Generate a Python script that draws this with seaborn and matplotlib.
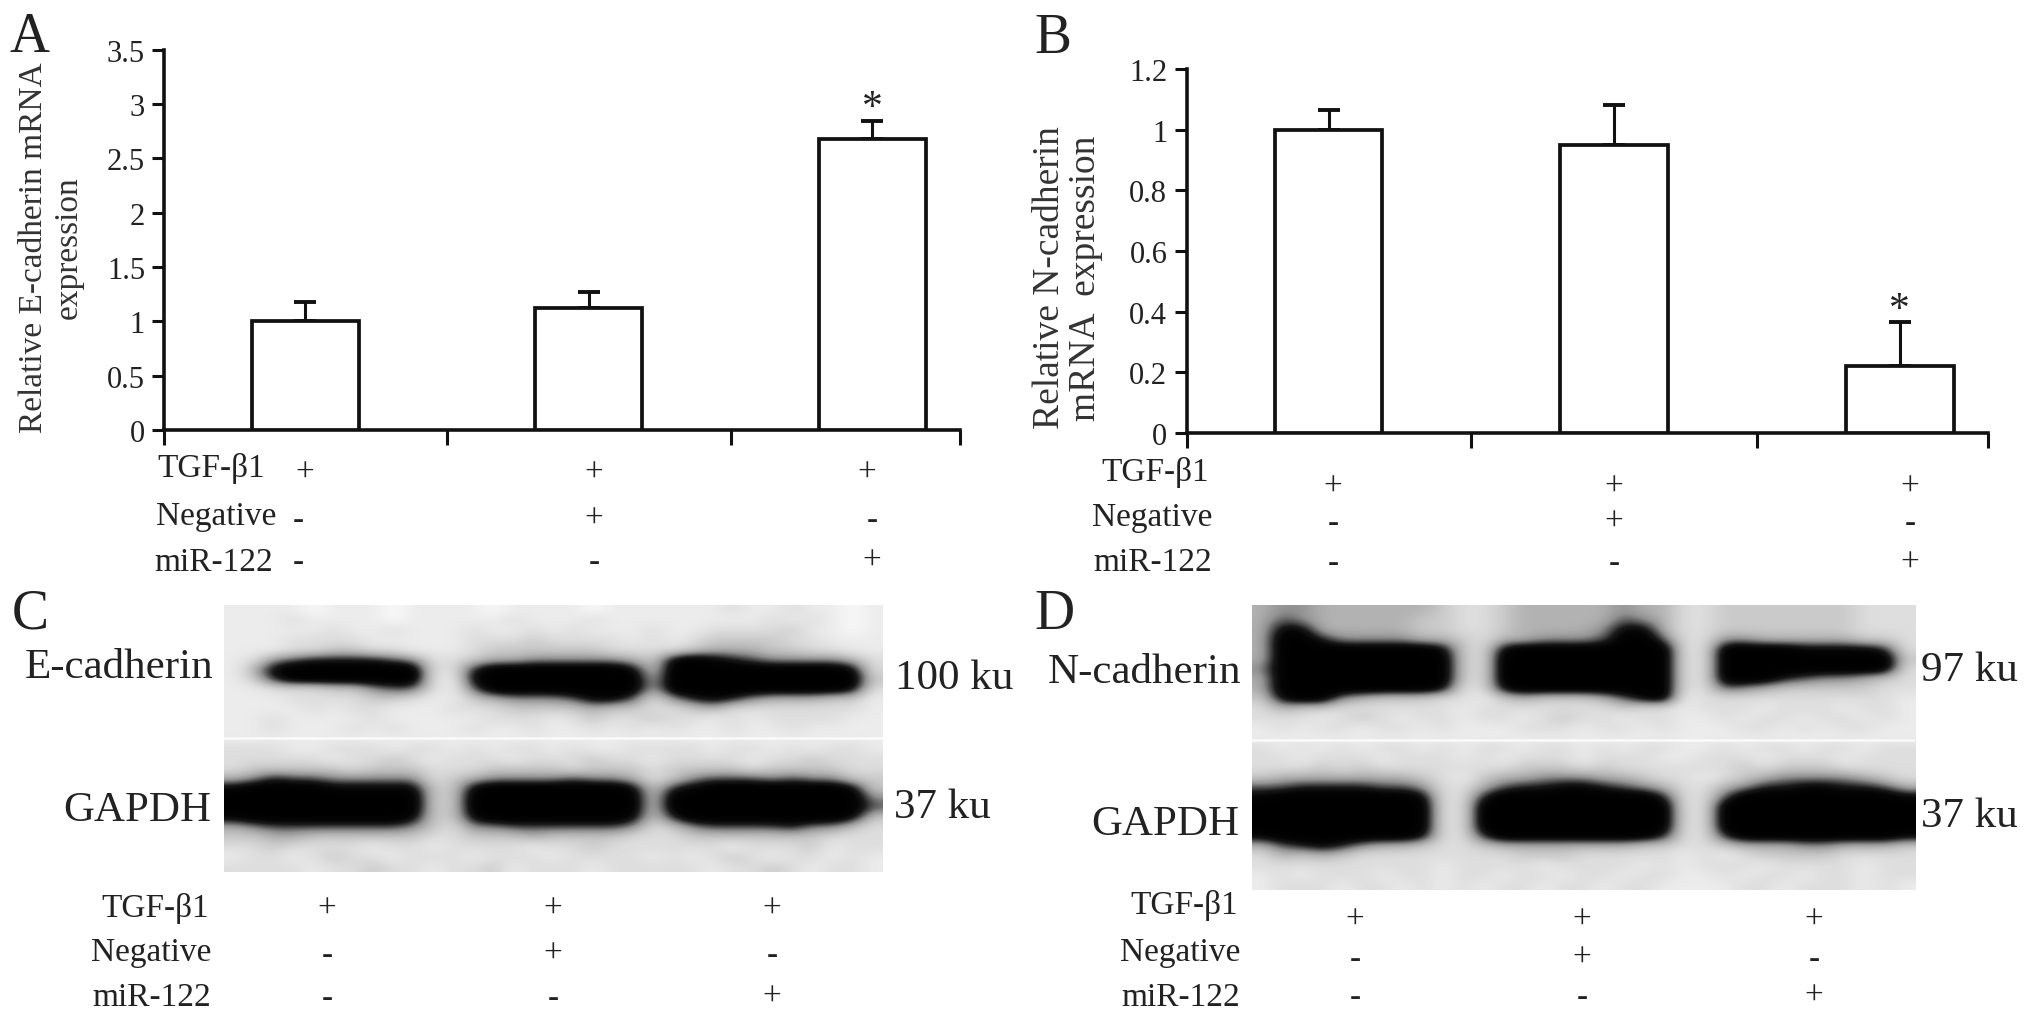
import numpy as np
import pandas as pd
import matplotlib
matplotlib.use("Agg")
import matplotlib.pyplot as plt
from matplotlib.colors import LinearSegmentedColormap
import seaborn as sns

sns.set_theme(style="white")
plt.rcParams['font.family'] = ['Liberation Serif', 'DejaVu Serif']
plt.rcParams['text.color'] = '#222222'

# ---------- data ----------
groups = ["TGF-β1", "TGF-β1 + Negative", "TGF-β1 + miR-122"]
row_names = ["TGF-β1", "Negative", "miR-122"]
row_signs = [["+", "+", "+"], ["-", "+", "-"], ["-", "-", "+"]]

ecad_mean = [1.0, 1.12, 2.68]
ecad_err = [0.18, 0.15, 0.16]
ecad_sig = ["", "", "*"]
ecad_ticks = [0, 0.5, 1, 1.5, 2, 2.5, 3, 3.5]
ecad_labels = ["0", "0.5", "1", "1.5", "2", "2.5", "3", "3.5"]

ncad_mean = [1.0, 0.95, 0.22]
ncad_err = [0.065, 0.13, 0.145]
ncad_sig = ["", "", "*"]
ncad_ticks = [0, 0.2, 0.4, 0.6, 0.8, 1, 1.2]
ncad_labels = ["0", "0.2", "0.4", "0.6", "0.8", "1", "1.2"]

# Blot densities, 0 = palest, 9 = black
BLOT_C = [
    "11" "11011101" "11" "101111011" "1" "1112112110" "1",
    "11" "12111101" "11" "112111211" "1" "1111121210" "1",
    "11" "11121121" "11" "211212111" "2" "1122223110" "1",
    "11" "12222111" "11" "222322221" "2" "1233332211" "1",
    "11" "12233221" "11" "233333322" "2" "2344433221" "1",
    "12" "56777765" "22" "344555554" "3" "8987655554" "2",
    "14" "89999999" "22" "799999998" "3" "9999999998" "2",
    "13" "79999999" "21" "899999999" "4" "9999999999" "3",
    "11" "22233566" "21" "699999999" "4" "9999999998" "2",
    "11" "12222332" "11" "345556886" "2" "5787544433" "1",
    "11" "11212211" "12" "223333433" "2" "2342222222" "1",
    "11" "21111211" "11" "122212322" "3" "2212122221" "1",
    "11" "21112121" "11" "211211212" "1" "2112112111" "1",
    "11" "11111111" "11" "111111111" "1" "1111111111" "1",
    "22" "21122212" "21" "212212112" "2" "2212212122" "1",
    "22" "22212232" "12" "221222322" "1" "2222122322" "2",
    "23" "33332333" "22" "233332333" "2" "3333233332" "2",
    "45" "76655555" "23" "455556554" "2" "3566656553" "3",
    "89" "99988888" "33" "899999998" "3" "7899999998" "3",
    "99" "99999999" "33" "999999999" "3" "9999999999" "5",
    "99" "99999999" "33" "999999999" "3" "9999999999" "6",
    "89" "99999998" "33" "899999998" "3" "7999999998" "3",
    "45" "66666665" "32" "556666665" "2" "3566667553" "2",
    "33" "44333333" "22" "333433332" "2" "2333333322" "2",
    "22" "32222122" "12" "222122322" "2" "2221222312" "2",
    "12" "21232212" "22" "122212222" "1" "2123212212" "1",
    "22" "22122322" "12" "231222122" "2" "2212232122" "1",
]
BLOT_D = [
    "4" "554444443" "22" "344444544" "22" "333333322" "2",
    "4" "654444433" "22" "344444654" "22" "333333322" "2",
    "4" "884444433" "22" "344445884" "22" "333333322" "2",
    "4" "997555544" "32" "445556996" "22" "554444433" "2",
    "4" "999999998" "32" "899999999" "22" "999988887" "2",
    "4" "999999999" "32" "999999999" "22" "999999999" "3",
    "5" "999999999" "32" "999999999" "22" "999999999" "2",
    "4" "999999999" "32" "999999999" "22" "999765543" "2",
    "4" "999999998" "22" "899999999" "22" "654333332" "2",
    "3" "899543332" "21" "343334689" "12" "222222222" "1",
    "2" "433222222" "12" "222222322" "12" "221222122" "1",
    "2" "221232122" "12" "212322122" "11" "212212212" "1",
    "1" "212212212" "11" "122212212" "11" "122121221" "1",
    "1" "111111111" "11" "111111111" "11" "111111111" "1",
    "2" "121212212" "12" "212212122" "11" "212212212" "2",
    "2" "212221222" "12" "122212221" "12" "221222122" "2",
    "222323222" "22" "2233323222" "22" "2323332222",
    "344444443" "21" "3445554432" "21" "2345555432",
    "667777665" "22" "4677887654" "22" "4577887764",
    "899999998" "22" "7999999997" "22" "6999999998",
    "999999999" "22" "9999999999" "22" "9999999999",
    "999999999" "22" "9999999999" "22" "9999999999",
    "999999999" "22" "9999999999" "22" "9999999999",
    "899999998" "22" "7999999997" "22" "7999999998",
    "467875443" "22" "3444444433" "22" "3444554443",
    "243432222" "22" "2233322222" "12" "1233332222",
    "222222222" "12" "2221222212" "12" "2212222122",
    "121222122" "12" "2122122122" "11" "2122122122",
    "122212212" "12" "1221221221" "11" "1221222121",
]
BLOT_GREY = [250, 236, 222, 202, 178, 145, 85, 25, 5, 0]
blot_cmap = LinearSegmentedColormap.from_list(
    "blot", [(i / 9, (g / 255,) * 3) for i, g in enumerate(BLOT_GREY)])

# ---------- layout helpers (pixels of the 2031x1020 picture) ----------
W, H = 2031, 1020
fig = plt.figure(figsize=(W / 100, H / 100), dpi=100, facecolor="white")


def rect(x0, y0, x1, y1):
    return [x0 / W, 1 - y1 / H, (x1 - x0) / W, (y1 - y0) / H]


def put(x, y, s, ha="center", size=20, **kw):
    fig.text(x / W, 1 - y / H, s, ha=ha, va="center", fontsize=size, **kw)


def bar_panel(box, means, errs, sig, ticks, labels, ylabel, label_xy, label_size, label_gap,
              ytop, sig_gap):
    ax = fig.add_axes(rect(*box))
    df = pd.DataFrame({"group": groups, "value": means})
    sns.barplot(data=df, x="group", y="value", order=groups, ax=ax, width=0.377,
                color="white", edgecolor="#111111", linewidth=2.7, saturation=1,
                errorbar=None, zorder=3)
    ax.errorbar(range(3), means, yerr=[[0, 0, 0], errs], fmt="none", ecolor="#111111",
                elinewidth=2.2, capsize=8, capthick=2.8, zorder=2)
    for i, s in enumerate(sig):
        if s:
            ax.text(i, means[i] + errs[i] + sig_gap, s, ha="center", va="center", fontsize=30)
    ax.set_xlim(-0.497, 2.309)
    ax.set_ylim(0, ytop)
    ax.set_xticks([-0.497, 0.5, 1.5, 2.309], ["", "", "", ""])
    ax.set_yticks(ticks, labels)
    ax.tick_params(axis="x", direction="out", length=11, width=2.2, color="#111111", bottom=True)
    ax.tick_params(axis="y", direction="out", length=9, width=2.2, color="#111111", left=True,
                   labelsize=22, pad=5, labelcolor="#222222")
    for side in ["top", "right"]:
        ax.spines[side].set_visible(False)
    for side in ["left", "bottom"]:
        ax.spines[side].set_linewidth(2.6)
        ax.spines[side].set_color("#111111")
    ax.set_xlabel("")
    ax.set_ylabel(ylabel, fontsize=label_size, linespacing=label_gap, color="#333333", va="center")
    ax.yaxis.set_label_coords((label_xy[0] - box[0]) / (box[2] - box[0]),
                              (box[3] - label_xy[1]) / (box[3] - box[1]))
    ax.patch.set_alpha(0)
    return ax


def blot_panel(box, rows, line_row):
    ax = fig.add_axes(rect(*box))
    grid = np.array([[int(c) for c in r] for r in rows], dtype=float)
    ax.imshow(grid, cmap=blot_cmap, vmin=0, vmax=9, aspect="auto", interpolation="bicubic")
    ax.axhline(line_row, color="white", lw=1.8, alpha=0.8)
    ax.axis("off")


def sign_table(name_rights, name_ys, cols, sign_ys):
    for name, x, y in zip(row_names, name_rights, name_ys):
        put(x, y, name, ha="right", size=24)
    for r, y in enumerate(sign_ys):
        for c, x in enumerate(cols[r]):
            s = row_signs[r][c]
            put(x, y if s == "+" else y + 1, s, size=24)


# ---------- panels A, B ----------
bar_panel((164.5, 50.7, 960, 431), ecad_mean, ecad_err, ecad_sig, ecad_ticks, ecad_labels,
          "Relative E-cadherin mRNA\nexpression", (51, 248), 24, 1.2, 3.5, 0.13)
bar_panel((1186.7, 70, 1988, 434), ncad_mean, ncad_err, ncad_sig, ncad_ticks, ncad_labels,
          "Relative N-cadherin\nmRNA  expression", (1068, 278), 27, 1.06, 1.2, 0.04)

sign_table([265, 276, 273], [469, 517, 563],
           [[305, 594, 867], [298, 594, 872], [298, 594, 872]], [473, 520, 562])
sign_table([1209, 1212, 1212], [473, 518, 563],
           [[1333, 1614, 1910], [1333, 1614, 1910], [1333, 1614, 1910]], [487, 523, 563])

# ---------- panels C, D ----------
blot_panel((224, 606, 883, 873), BLOT_C, 12.95)
blot_panel((1252, 606, 1915, 891), BLOT_D, 13.24)

put(213, 668, "E-cadherin", ha="right", size=31)
put(211, 811, "GAPDH", ha="right", size=31)
put(895, 679, "100 ku", ha="left", size=31)
put(894, 808, "37 ku", ha="left", size=31)
put(1241, 673, "N-cadherin", ha="right", size=31)
put(1239, 825, "GAPDH", ha="right", size=31)
put(1921, 671, "97 ku", ha="left", size=31)
put(1921, 817, "37 ku", ha="left", size=31)

sign_table([209, 211, 211], [909, 953, 998], [[327, 553, 772]] * 3, [909, 955, 998])
sign_table([1238, 1240, 1240], [906, 953, 998], [[1355, 1582, 1814]] * 3, [921, 959, 997])

# ---------- panel letters ----------
for letter, x, y in [("A", 10, 38), ("B", 1034, 39), ("C", 12, 615), ("D", 1034, 615)]:
    put(x, y, letter, ha="left", size=40)

fig.savefig("out.png", dpi=100, facecolor="white")
